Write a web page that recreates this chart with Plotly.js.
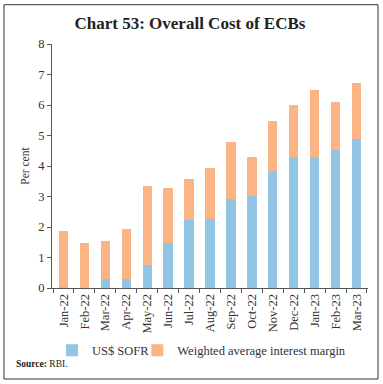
<!DOCTYPE html>
<html>
<head>
<meta charset="utf-8">
<script src="https://cdn.plot.ly/plotly-3.0.1.min.js"></script>
<style>
  html, body { margin: 0; padding: 0; background: #fff; }
  #chart { width: 383px; height: 384px; }
</style>
</head>
<body>
<div id="chart"></div>
<script>
const months = ["Jan-22","Feb-22","Mar-22","Apr-22","May-22","Jun-22","Jul-22","Aug-22","Sep-22","Oct-22","Nov-22","Dec-22","Jan-23","Feb-23","Mar-23"];
const sofr = [0.04, 0.00, 0.29, 0.28, 0.76, 1.49, 2.24, 2.27, 2.92, 3.03, 3.82, 4.28, 4.30, 4.54, 4.87];
const margin = [1.82, 1.47, 1.26, 1.66, 2.57, 1.78, 1.34, 1.68, 1.86, 1.27, 1.64, 1.73, 2.20, 1.57, 1.84];
const yTicks = [0,1,2,3,4,5,6,7,8];

const serif = "Liberation Serif, DejaVu Serif, serif";

const traces = [
  {type: "bar", name: "US$ SOFR", x: months, y: sofr, marker: {color: "#92C4E4"}, legend: "legend"},
  {type: "bar", name: "Weighted average interest margin", x: months, y: margin, marker: {color: "#FBB584"}, legend: "legend2"}
];

const legendBase = {orientation: "h", xanchor: "left", y: -0.195, yanchor: "top",
  font: {family: serif, size: 12.5, color: "#333"}, itemwidth: 30, bgcolor: "rgba(0,0,0,0)"};

const layout = {
  width: 383, height: 384,
  barmode: "stack", bargap: 0.55,
  paper_bgcolor: "#fff", plot_bgcolor: "#fff",
  margin: {l: 52, r: 15, t: 44, b: 96},
  font: {family: serif, color: "#333", size: 12},
  title: {text: "<b>Chart 53: Overall Cost of ECBs</b>", x: 0.496, xref: "container", xanchor: "center", y: 0.94, yanchor: "middle",
          font: {family: serif, size: 17, color: "#222"}},
  xaxis: {
    type: "category", range: [-0.55, 14.55], showline: true, linecolor: "#555", linewidth: 1,
    ticks: "outside", tickson: "boundaries", ticklen: 4, tickcolor: "#555",
    tickangle: -90, tickfont: {family: serif, size: 12.5, color: "#333"}, showgrid: false, zeroline: false, fixedrange: true
  },
  yaxis: {
    range: [0, 8], tickvals: yTicks, showline: true, linecolor: "#555", linewidth: 1,
    ticks: "outside", ticklen: 4, tickcolor: "#555", showgrid: false, zeroline: false,
    tickfont: {family: serif, size: 12.5, color: "#333"},
    title: {text: "Per cent", font: {family: serif, size: 11.5, color: "#333"}, standoff: 6}
  },
  showlegend: true,
  legend: Object.assign({}, legendBase, {x: 0.0}),
  legend2: Object.assign({}, legendBase, {x: 0.27}),
  annotations: [
    {text: "<b>Source:</b> RBI.", xref: "paper", yref: "paper", x: -0.12, y: -0.31, xanchor: "left", yanchor: "middle",
     showarrow: false, font: {family: serif, size: 9.5, color: "#222"}}
  ],
  shapes: [
    {type: "rect", xref: "paper", yref: "paper", x0: -0.152, x1: 1.0316, y0: -0.373, y1: 1.161,
     line: {color: "#333", width: 1}, fillcolor: "rgba(0,0,0,0)", layer: "above"}
  ]
};

Plotly.newPlot("chart", traces, layout, {displayModeBar: false, staticPlot: true});
</script>
</body>
</html>
